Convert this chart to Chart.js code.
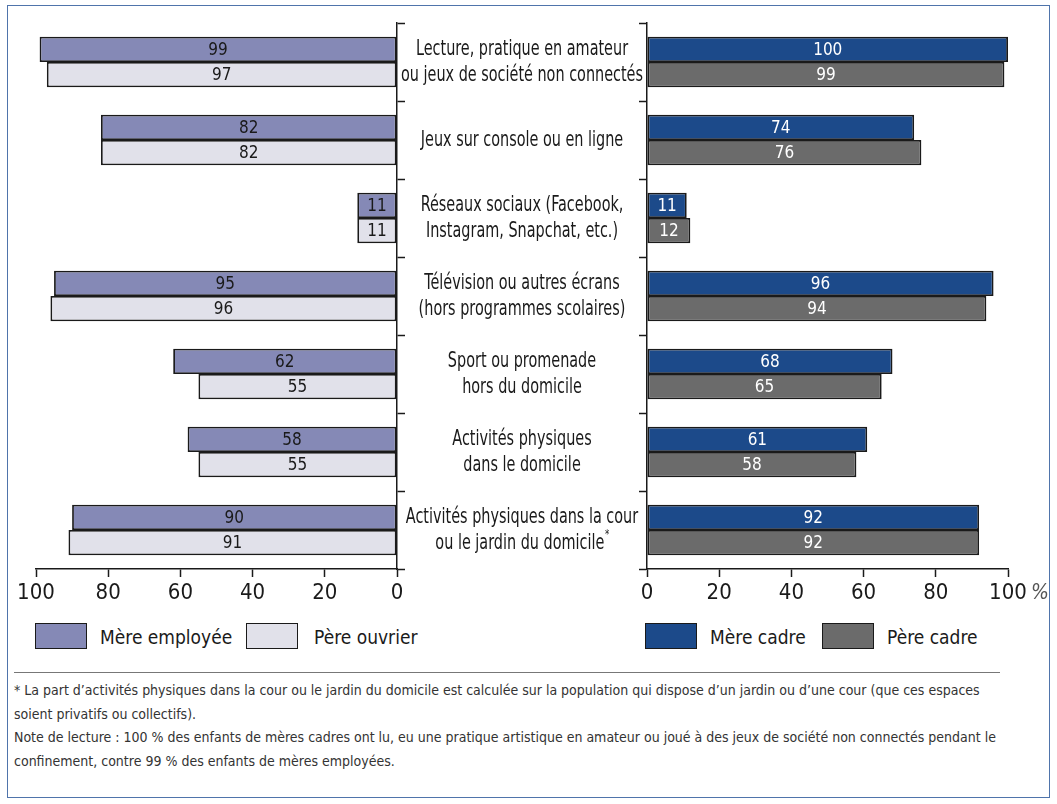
<!DOCTYPE html>
<html lang="fr">
<head>
<meta charset="utf-8">
<script src="https://cdn.jsdelivr.net/npm/chart.js@4.4.0/dist/chart.umd.min.js"></script>
<style>
  body { margin: 0; width: 1057px; height: 804px; background: #fff; position: relative; overflow: hidden;
         font-family: 'Liberation Sans Narrow', 'DejaVu Sans Condensed', 'Roboto Condensed', sans-serif; color: #1a1a1a; }
  #frame { position: absolute; left: 7px; top: 5px; width: 1041px; height: 791px; border: 1.5px solid #4f74ab; }
  canvas { position: absolute; top: 0; }
  #left { left: 0; }
  #right { left: 620px; }
  .lg-box { position: absolute; width: 50px; height: 24px; border: 1.5px solid #1a1a1a; top: 623px; }
  .lg-text { position: absolute; top: 624px; font-size: 19px; line-height: 26px; }
  #rule { position: absolute; left: 14px; top: 672px; width: 986px; height: 0; border-top: 1.5px solid #777; }
  #notes { position: absolute; left: 14px; top: 679px; font-size: 14px; line-height: 23.5px; color: #333; }
</style>
</head>
<body>
<div id="frame"></div>
<canvas id="left" width="647" height="615"></canvas>
<canvas id="right" width="437" height="615"></canvas>
<div id="legends"></div>
<div id="rule"></div>
<div id="notes">
* La part d’activités physiques dans la cour ou le jardin du domicile est calculée sur la population qui dispose d’un jardin ou d’une cour (que ces espaces<br>
soient privatifs ou collectifs).<br>
Note de lecture : 100 % des enfants de mères cadres ont lu, eu une pratique artistique en amateur ou joué à des jeux de société non connectés pendant le<br>
confinement, contre 99 % des enfants de mères employées.
</div>
<script>
var FONT = "'Liberation Sans Narrow', 'DejaVu Sans Condensed', 'Roboto Condensed', sans-serif";

var categories = [
    ['Lecture, pratique en amateur', 'ou jeux de société non connectés'],
    ['Jeux sur console ou en ligne'],
    ['Réseaux sociaux (Facebook,', 'Instagram, Snapchat, etc.)'],
    ['Télévision ou autres écrans', '(hors programmes scolaires)'],
    ['Sport ou promenade', 'hors du domicile'],
    ['Activités physiques', 'dans le domicile'],
    ['Activités physiques dans la cour', 'ou le jardin du domicile*']
];
var mereEmployee = [99, 82, 11, 95, 62, 58, 90];
var pereOuvrier = [97, 82, 11, 96, 55, 55, 91];
var mereCadre = [100, 74, 11, 96, 68, 61, 92];
var pereCadre = [99, 76, 12, 94, 65, 58, 92];
var xTicks = [0, 20, 40, 60, 80, 100];

var leftSeries = [
    {label: 'Mère employée', data: mereEmployee, color: '#8589b6'},
    {label: 'Père ouvrier', data: pereOuvrier, color: '#e1e1ea'}
];
var rightSeries = [
    {label: 'Mère cadre', data: mereCadre, color: '#1c4a8a'},
    {label: 'Père cadre', data: pereCadre, color: '#6b6b6b'}
];

// value written in the middle of each bar
const barValues = {
    id: 'barValues',
    afterDatasetsDraw(chart, args, opts) {
        const {ctx} = chart;
        ctx.save();
        ctx.font = '17px ' + FONT;
        ctx.fillStyle = opts.color;
        ctx.textAlign = 'center';
        ctx.textBaseline = 'middle';
        chart.data.datasets.forEach((ds, i) => {
            chart.getDatasetMeta(i).data.forEach((bar, j) => {
                ctx.fillText(ds.data[j], (bar.x + bar.base) / 2, bar.y + 1);
            });
        });
        ctx.restore();
    }
};

// category names between the two panels (squeezed to look like a condensed face)
const centerLabels = {
    id: 'centerLabels',
    afterDraw(chart) {
        const {ctx} = chart;
        const y = chart.scales.y;
        const cx = chart.chartArea.right + 125;
        ctx.save();
        ctx.font = '22px ' + FONT;
        const sx = 242 / ctx.measureText(categories[0][1]).width;
        ctx.fillStyle = '#1a1a1a';
        ctx.textBaseline = 'middle';
        ctx.translate(cx, 0);
        ctx.scale(sx, 1);
        categories.forEach((lines, i) => {
            const yc = y.getPixelForValue(i);
            lines.forEach((line, k) => {
                const ly = yc + (k - (lines.length - 1) / 2) * 26;
                ctx.font = '22px ' + FONT;
                if (line.endsWith('*')) {
                    const txt = line.slice(0, -1);
                    const w = ctx.measureText(txt).width;
                    ctx.font = '13px ' + FONT;
                    const ws = ctx.measureText('*').width;
                    ctx.textAlign = 'left';
                    ctx.fillText('*', -(w + ws) / 2 + w + 1, ly - 8);
                    ctx.font = '22px ' + FONT;
                    ctx.fillText(txt, -(w + ws) / 2, ly);
                } else {
                    ctx.textAlign = 'center';
                    ctx.fillText(line, 0, ly);
                }
            });
        });
        ctx.restore();
    }
};

// "%" after the last tick of the right panel
const percentSign = {
    id: 'percentSign',
    afterDraw(chart) {
        const {ctx} = chart;
        const x = chart.scales.x;
        ctx.save();
        ctx.font = '22px ' + FONT;
        const w = ctx.measureText('100').width;
        ctx.font = 'italic 21px ' + FONT;
        ctx.fillStyle = '#555';
        ctx.textAlign = 'left';
        ctx.textBaseline = 'middle';
        ctx.fillText('%', x.getPixelForValue(100) + w / 2 + 4, x.top + 25);
        ctx.restore();
    }
};

function makeDatasets(series) {
    return series.map(s => ({
        label: s.label,
        data: s.data,
        backgroundColor: s.color,
        borderColor: '#1a1a1a',
        borderWidth: 1.8,
        borderSkipped: false,
        barPercentage: 1,
        categoryPercentage: 0.65
    }));
}

function makeChart(id, series, isLeft) {
    const ctx = document.getElementById(id).getContext('2d');
    return new Chart(ctx, {
        type: 'bar',
        data: {
            labels: categories.map(c => c.join(' ')),
            datasets: makeDatasets(series)
        },
        plugins: isLeft ? [barValues, centerLabels] : [barValues, percentSign],
        options: {
            responsive: false,
            animation: false,
            indexAxis: 'y',
            layout: {padding: isLeft ? {left: 36, top: 23, right: 0, bottom: 0} : {left: 0, top: 23, right: 49, bottom: 0}},
            plugins: {
                legend: {display: false},
                tooltip: {enabled: false},
                barValues: {color: isLeft ? '#1a1a1a' : '#ffffff'}
            },
            scales: {
                x: {
                    min: 0, max: 100,
                    reverse: isLeft,
                    afterFit(scale) { scale.height = 46; },
                    afterBuildTicks(scale) { scale.ticks = xTicks.map(v => ({value: v})); },
                    grid: {drawOnChartArea: false, drawTicks: true, tickLength: 8, tickColor: '#1a1a1a', tickWidth: 1.5},
                    border: {display: true, color: '#1a1a1a', width: 1.5},
                    ticks: {color: '#1a1a1a', padding: 3, maxRotation: 0, font: {family: FONT, size: 22}}
                },
                y: {
                    position: isLeft ? 'right' : 'left',
                    afterFit(scale) { scale.width = isLeft ? 250 : 27; },
                    grid: {offset: true, drawOnChartArea: false, drawTicks: true, tickLength: 8, tickColor: '#1a1a1a', tickWidth: 1.5},
                    border: {display: true, color: '#1a1a1a', width: 1.5},
                    ticks: {display: false}
                }
            }
        }
    });
}

makeChart('left', leftSeries, true);
makeChart('right', rightSeries, false);

// legends under each panel
var legendPos = [
    {s: leftSeries[0], box: 35, text: 100},
    {s: leftSeries[1], box: 246, text: 314},
    {s: rightSeries[0], box: 645, text: 710},
    {s: rightSeries[1], box: 822, text: 887}
];
var lg = document.getElementById('legends');
legendPos.forEach(p => {
    const b = document.createElement('div');
    b.className = 'lg-box';
    b.style.left = p.box + 'px';
    b.style.background = p.s.color;
    lg.appendChild(b);
    const t = document.createElement('div');
    t.className = 'lg-text';
    t.style.left = p.text + 'px';
    t.textContent = p.s.label;
    lg.appendChild(t);
});
</script>
</body>
</html>
